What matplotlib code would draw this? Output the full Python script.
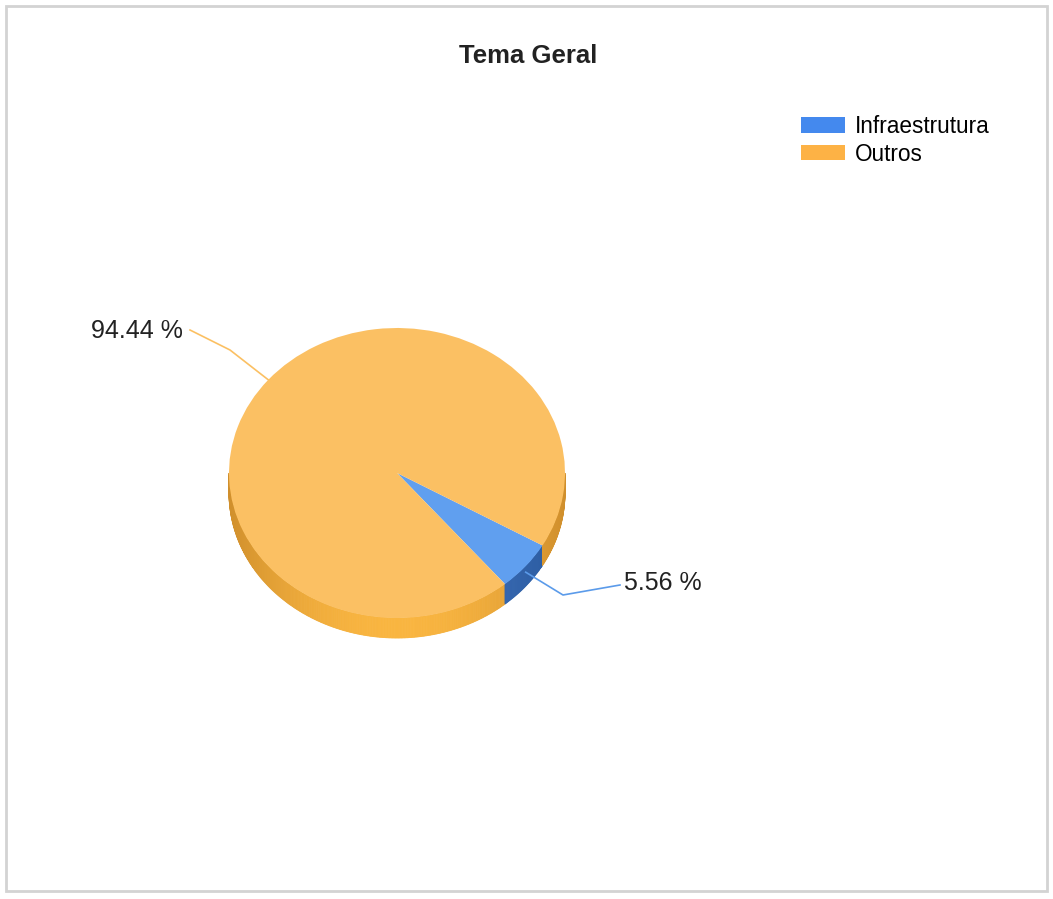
import numpy as np
import matplotlib
matplotlib.use("Agg")
import matplotlib.pyplot as plt
from matplotlib.colors import to_rgb
from matplotlib.patches import Patch, Rectangle

plt.rcParams['font.family'] = ['Liberation Sans', 'DejaVu Sans']

# data
labels = ['Infraestrutura', 'Outros']
values = [5.56, 94.44]
top_colors = ['#609FEF', '#FBC063']
legend_colors = ['#4489EE', '#FDB245']
side_light = ['#3A6DB8', '#F9B540']
side_dark = ['#2A5A9E', '#D08F2C']
line_colors = ['#5B9BEA', '#FBC063']
title = 'Tema Geral'

W, H = 1053, 899
fig = plt.figure(figsize=(W / 100, H / 100), dpi=100)
ax = fig.add_axes([0, 0, 1, 1])

# pie geometry in pixels
cx, cy, rx, ry, depth_px = 397, 473, 168, 145, 20
depth = depth_px / ry

def px(x, y):
    # pixel (from top-left) -> data units
    return (x - cx) / rx, (cy - y) / ry

start = -50
fracs = np.array(values) / np.sum(values)
bounds = start + 360 * np.concatenate([[0], np.cumsum(fracs)])

# side band (3D rim)
ts = np.linspace(180, 360, 361)
for t0, t1 in zip(ts[:-1], ts[1:]):
    tm = (t0 + t1) / 2
    k = None
    for i in range(len(values)):
        a, b = bounds[i], bounds[i + 1]
        if a <= tm < b or a <= tm - 360 < b or a <= tm + 360 < b:
            k = i
    xm = np.cos(np.radians(tm))
    w = 1 - xm ** 2
    col = tuple(np.array(to_rgb(side_dark[k])) * (1 - w) + np.array(to_rgb(side_light[k])) * w)
    xs = np.cos(np.radians([t0, t1, t1, t0]))
    ys = np.sin(np.radians([t0, t1, t1, t0])) - np.array([0, 0, depth, depth])
    ax.fill(xs, ys, color=col, lw=0.6, ec=col)

# top face
ax.pie(values, colors=top_colors, startangle=start, counterclock=True,
       radius=1, center=(0, 0), wedgeprops=dict(linewidth=0, edgecolor='none'))

# labels with leader lines
mids = (bounds[:-1] + bounds[1:]) / 2
elbows = [(px(563, 595), px(620, 585), px(624, 583), 'left'),
          (px(230, 350), px(190, 330), px(183, 331), 'right')]
for i, v in enumerate(values):
    ang = np.radians(mids[i])
    ax0 = np.cos(ang)
    ay0 = np.sin(ang) - (depth * 0.3 if np.sin(ang) < 0 else 0)
    e, end, tp, ha = elbows[i]
    ax.plot([ax0, e[0], end[0]], [ay0, e[1], end[1]], color=line_colors[i], lw=1.2)
    ax.text(tp[0], tp[1], f'{v:.2f} %', ha=ha, va='center', fontsize=18, color='#222222')

ax.set_aspect('auto')
ax.set_xlim((0 - cx) / rx, (W - cx) / rx)
ax.set_ylim((cy - H) / ry, cy / ry)
ax.axis('off')

fig.text(528 / W, 1 - 56 / H, title, ha='center', va='center',
         fontsize=18.5, fontweight='bold', color='#222222')

handles = [Patch(facecolor=c, edgecolor='none') for c in legend_colors]
fig.legend(handles, labels, loc='upper left', bbox_to_anchor=(801 / W, 1 - 115 / H),
           frameon=False, fontsize=16.3, handlelength=1.95, handleheight=0.66,
           handletextpad=0.45, labelspacing=0.2, borderpad=0, borderaxespad=0)

fig.patches.append(Rectangle((6 / W, 1 - 891 / H), 1041 / W, 885 / H, transform=fig.transFigure,
                             fill=False, edgecolor='#D3D3D3', lw=2))

fig.savefig('out.png', dpi=100)
